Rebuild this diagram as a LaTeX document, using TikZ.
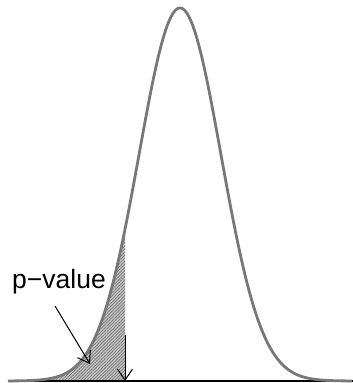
\documentclass[tikz,border=0pt]{standalone}
\usepackage{fontspec}
\setmainfont{Liberation Sans}
\usetikzlibrary{arrows.meta, patterns.meta, positioning}
\definecolor{curvegray}{RGB}{120, 120, 120}

\begin{document}
\begin{tikzpicture}[
  x=1pt, y=-1pt,
  curve/.style={color=curvegray, line width=2.8pt},
  pointer/.style={-{Straight Barb[length=11pt, width=15pt]}, line width=1pt},
  label/.style={font=\fontsize{26.5}{30}\selectfont, inner sep=0pt, anchor=base west}
]
  \useasboundingbox (0,0) rectangle (353,383);

  % shaded tail
  \fill[gray!45] (8,381) -- plot[domain=8:125, samples=100]
    (\x, {381-373*exp(-((\x-180)/41)^2/2)}) -- (125,381) -- cycle;
  \fill[pattern={Lines[angle=45, distance=2.2pt, line width=0.7pt]}, pattern color=gray!90!black]
    (8,381) -- plot[domain=8:125, samples=100]
    (\x, {381-373*exp(-((\x-180)/41)^2/2)}) -- (125,381) -- cycle;

  % baseline and density
  \draw[line width=1.5pt] (8,381) -- (353,381);
  \draw[curve] plot[domain=8:352, samples=250]
    (\x, {381-373*exp(-((\x-180)/41)^2/2)});

  % label and arrows
  \node[label] (pval) at (12,288) {p−value};
  \coordinate (from) at (55,306);
  \coordinate (tail) at (90,364);
  \coordinate (crit) at (125,335);
  \coordinate (base) at (125,381);
  \draw[pointer] (from) -- (tail);
  \draw[pointer] (crit) -- (base);
\end{tikzpicture}
\end{document}
